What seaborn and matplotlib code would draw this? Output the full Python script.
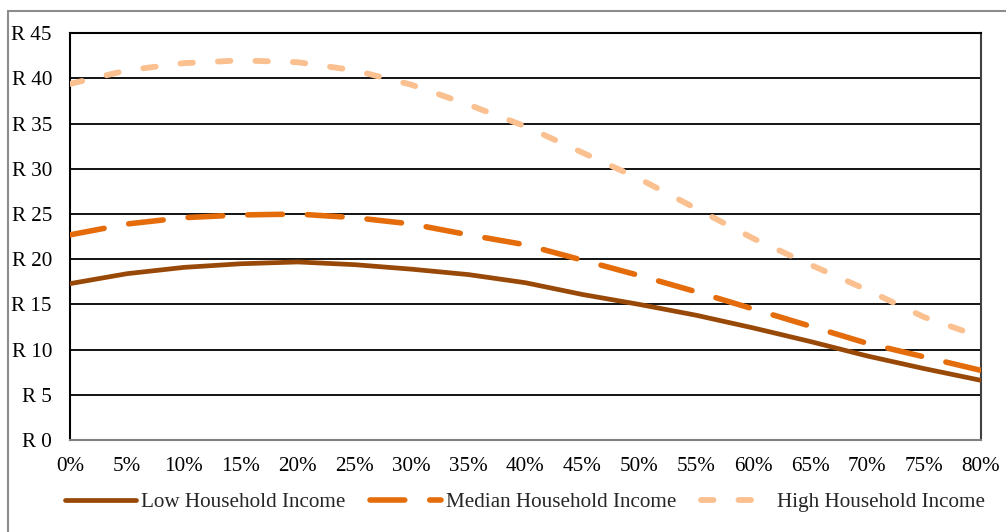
import matplotlib
matplotlib.use("Agg")
import matplotlib.pyplot as plt
from matplotlib.lines import Line2D
from matplotlib.patches import Rectangle
import numpy as np
import pandas as pd
import seaborn as sns

# Share of income (%) on the x axis
share_pct = [0, 5, 10, 15, 20, 25, 30, 35, 40, 45, 50, 55, 60, 65, 70, 75, 80]

# Rand values per household income group
low_income = [17.3, 18.4, 19.1, 19.5, 19.7, 19.4, 18.9, 18.3, 17.4, 16.1, 15.0, 13.8, 12.4, 10.9, 9.3, 7.9, 6.6]
median_income = [22.7, 23.9, 24.6, 24.9, 25.0, 24.6, 23.9, 22.7, 21.6, 19.9, 18.2, 16.4, 14.5, 12.6, 10.7, 9.2, 7.7]
high_income = [39.4, 40.9, 41.7, 42.0, 41.8, 40.9, 39.3, 37.1, 34.7, 31.8, 28.9, 25.6, 22.3, 19.4, 16.6, 13.6, 11.4]

series_names = ["Low Household Income", "Median Household Income", "High Household Income"]
y_ticks = [0, 5, 10, 15, 20, 25, 30, 35, 40, 45]
x_ticks = share_pct

colors = ["#984807", "#E46C0A", "#FAC090"]

df = pd.DataFrame({
    "share": share_pct * 3,
    "value": low_income + median_income + high_income,
    "series": [series_names[0]] * len(share_pct)
    + [series_names[1]] * len(share_pct)
    + [series_names[2]] * len(share_pct),
})

sns.set_style("white")
plt.rcParams["font.family"] = ["Liberation Serif", "DejaVu Serif"]
plt.rcParams["lines.scale_dashes"] = False

FS = 15.2

fig = plt.figure(figsize=(10.06, 5.32), dpi=100)
ax = fig.add_axes([70 / 1006, 1 - 440 / 532, (981 - 70) / 1006, (440 - 33.3) / 532])

styles = {
    series_names[0]: dict(ls="-", lw=3.4),
    series_names[1]: dict(ls=(0, (25, 18)), lw=4.0),
    series_names[2]: dict(ls=(0, (9, 18)), lw=4.2),
}

handles = []
for name, col in zip(series_names, colors):
    sub = df[df["series"] == name]
    st = styles[name]
    sns.lineplot(data=sub, x="share", y="value", ax=ax, color=col,
                 linewidth=st["lw"], linestyle=st["ls"], legend=False,
                 solid_capstyle="round", dash_capstyle="round",
                 solid_joinstyle="round", dash_joinstyle="round", zorder=3)
    handles.append(Line2D([0], [0], color=col, lw=st["lw"], ls=st["ls"],
                          solid_capstyle="round", dash_capstyle="round"))

ax.set_xlim(0, 80)
ax.set_ylim(0, 45)
ax.set_xticks(x_ticks)
ax.set_xticklabels([f"{v}%" for v in x_ticks])
ax.set_yticks(y_ticks)
ax.set_yticklabels([f"R {v}" for v in y_ticks])
ax.set_xlabel("")
ax.set_ylabel("")
ax.tick_params(axis="both", length=0, labelsize=FS, colors="black")
ax.tick_params(axis="y", pad=13)
ax.tick_params(axis="x", pad=12)

ax.grid(axis="y", color="black", linewidth=1.3, zorder=1)
ax.grid(axis="x", visible=False)
ax.set_axisbelow(True)

for side, col, lw in [("left", "black", 1.5), ("bottom", "#808080", 1.5),
                      ("right", "#404040", 1.5), ("top", "black", 1.5)]:
    ax.spines[side].set_visible(True)
    ax.spines[side].set_color(col)
    ax.spines[side].set_linewidth(lw)

fig.legend(handles, series_names, loc="center", bbox_to_anchor=(0.522, 0.056),
           ncol=3, frameon=False, fontsize=FS, handlelength=3.35,
           handletextpad=0.25, columnspacing=1.15)

# Outer chart border
fig.patches.append(Rectangle((8 / 1006, -0.05), 1.1, 1 - 11 / 532 + 0.05,
                             transform=fig.transFigure, fill=False,
                             edgecolor="#8c8c8c", linewidth=1.5, zorder=0))

fig.savefig("out.png", dpi=100)
